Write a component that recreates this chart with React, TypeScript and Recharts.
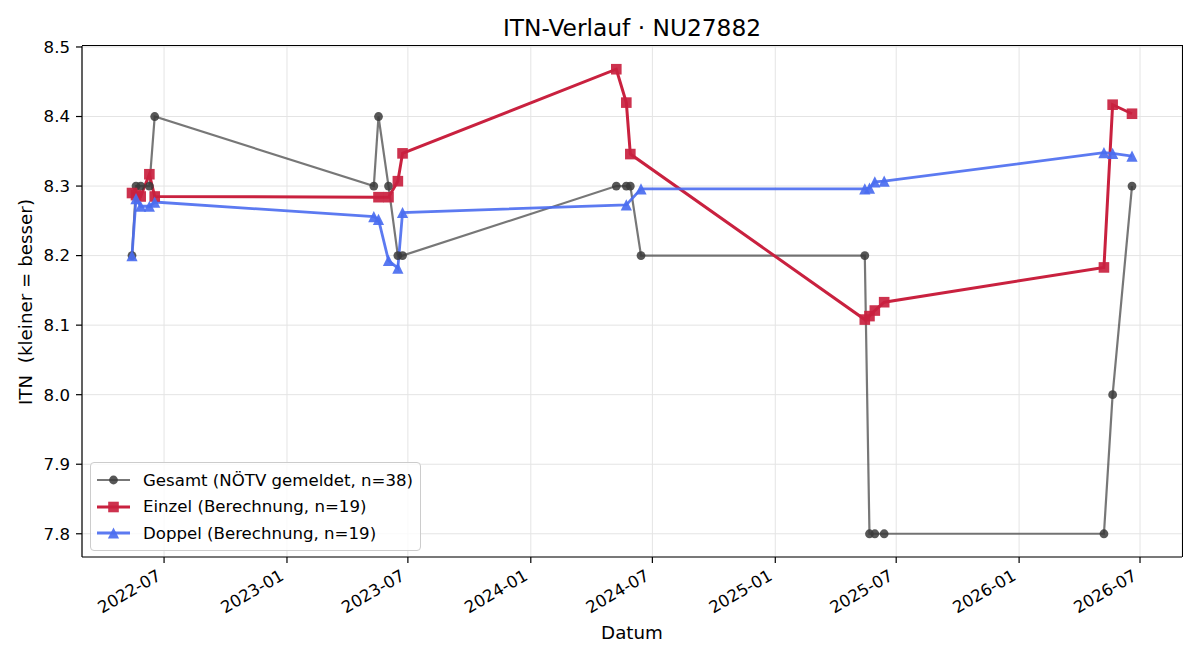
import React from 'react'
import {LineChart, Line, XAxis, YAxis, CartesianGrid} from 'recharts'

// ITN history for NU27882: total (reported) plus singles / doubles calculation
const gesamtDates = [
  '2022-05-14', '2022-05-20', '2022-05-27', '2022-06-09', '2022-06-17',
  '2023-05-11', '2023-05-18', '2023-06-02', '2023-06-16', '2023-06-23',
  '2024-05-08', '2024-05-23', '2024-05-29', '2024-06-14',
  '2025-05-15', '2025-05-22', '2025-05-30', '2025-06-13',
  '2026-05-08', '2026-05-21', '2026-06-19',
]
const gesamtValues = [
  8.2, 8.3, 8.3, 8.3, 8.4,
  8.3, 8.4, 8.3, 8.2, 8.2,
  8.3, 8.3, 8.3, 8.2,
  8.2, 7.8, 7.8, 7.8,
  7.8, 8.0, 8.3,
]

const einzelDates = [
  '2022-05-14', '2022-05-20', '2022-05-27', '2022-06-09', '2022-06-17',
  '2023-05-18', '2023-06-02', '2023-06-16', '2023-06-23',
  '2024-05-08', '2024-05-23', '2024-05-29',
  '2025-05-15', '2025-05-22', '2025-05-30', '2025-06-13',
  '2026-05-08', '2026-05-21', '2026-06-19',
]
const einzelValues = [
  8.290, 8.287, 8.285, 8.317, 8.285,
  8.284, 8.284, 8.307, 8.347,
  8.468, 8.420, 8.346,
  8.108, 8.113, 8.121, 8.133,
  8.183, 8.417, 8.404,
]

const doppelDates = [
  '2022-05-14', '2022-05-20', '2022-05-27', '2022-06-09', '2022-06-17',
  '2023-05-11', '2023-05-18', '2023-06-02', '2023-06-16', '2023-06-23',
  '2024-05-23', '2024-06-14',
  '2025-05-15', '2025-05-22', '2025-05-30', '2025-06-13',
  '2026-05-08', '2026-05-21', '2026-06-19',
]
const doppelValues = [
  8.200, 8.282, 8.271, 8.271, 8.277,
  8.256, 8.252, 8.193, 8.182, 8.262,
  8.273, 8.296,
  8.296, 8.297, 8.306, 8.307,
  8.348, 8.347, 8.343,
]

const xTickLabels = ['2022-07', '2023-01', '2023-07', '2024-01', '2024-07', '2025-01', '2025-07', '2026-01', '2026-07']
const yTicks = [7.8, 7.9, 8.0, 8.1, 8.2, 8.3, 8.4, 8.5]

const FONT = 'DejaVu Sans'
const GRAY = '#4a4a4a'
const RED = '#c9213f'
const BLUE = '#4a6cf0'

const toTime = (d: string) => Date.parse(d + 'T00:00:00Z')
const toSeries = (dates: string[], values: number[]) => dates.map((d, i) => ({t: toTime(d), v: values[i]}))

const gesamt = toSeries(gesamtDates, gesamtValues)
const einzel = toSeries(einzelDates, einzelValues)
const doppel = toSeries(doppelDates, doppelValues)

const allTimes = [...gesamt, ...einzel, ...doppel].map(p => p.t)
const tMin = Math.min(...allTimes)
const tMax = Math.max(...allTimes)
const tPad = (tMax - tMin) * 0.05
const xDomain: [number, number] = [tMin - tPad, tMax + tPad]

const allValues = [...gesamtValues, ...einzelValues, ...doppelValues]
const vMin = Math.min(...allValues)
const vMax = Math.max(...allValues)
const vPad = (vMax - vMin) * 0.05
const yDomain: [number, number] = [vMin - vPad, vMax + vPad]

const xTicks = xTickLabels.map(m => toTime(m + '-01'))

// plot box in page pixels
const PLOT = {left: 82, top: 46, right: 1182, bottom: 557}

const circleDot = (p: any) => (
  <circle key={`g${p.index}`} cx={p.cx} cy={p.cy} r={4.4} fill="#3a3a3a" fillOpacity={0.85} />
)
const squareDot = (p: any) => (
  <rect key={`e${p.index}`} x={p.cx - 5.3} y={p.cy - 5.3} width={10.6} height={10.6} fill={RED} fillOpacity={0.92} />
)
const triangleDot = (p: any) => (
  <path key={`d${p.index}`} d={`M${p.cx},${p.cy - 5.6}L${p.cx + 5.6},${p.cy + 5.6}L${p.cx - 5.6},${p.cy + 5.6}Z`} fill={BLUE} fillOpacity={0.92} />
)

function DateTick({x, y, payload}: any) {
  const tx = x - 2
  const ty = y + 16
  return (
    <text x={tx} y={ty} transform={`rotate(-30, ${tx}, ${ty})`} textAnchor="end" fontSize={16.6} fontFamily={FONT} fill="#000">
      {new Date(payload.value).toISOString().slice(0, 7)}
    </text>
  )
}

const legendItems = [
  {label: 'Gesamt (NÖTV gemeldet, n=38)', color: GRAY, opacity: 0.75, width: 2.2, marker: 'circle'},
  {label: 'Einzel (Berechnung, n=19)', color: RED, opacity: 1, width: 3, marker: 'square'},
  {label: 'Doppel (Berechnung, n=19)', color: BLUE, opacity: 0.9, width: 2.8, marker: 'triangle'},
]

function LegendMarker({marker}: {marker: string}) {
  if (marker === 'circle') return <circle cx={16.5} cy={9} r={4.4} fill="#3a3a3a" fillOpacity={0.85} />
  if (marker === 'square') return <rect x={11.2} y={3.7} width={10.6} height={10.6} fill={RED} fillOpacity={0.92} />
  return <path d="M16.5,3.4L22.1,14.6L10.9,14.6Z" fill={BLUE} fillOpacity={0.92} />
}

export default function App() {
  return (
    <div style={{position: 'absolute', left: 0, top: 0, width: 1200, height: 660, background: '#fff', fontFamily: FONT}}>
      <div style={{position: 'absolute', left: 82, top: 14, width: 1100, lineHeight: '28px', textAlign: 'center', fontSize: 23.3}}>
        ITN-Verlauf · NU27882
      </div>
      <div style={{position: 'absolute', left: 26 - 200, top: 301.5 - 12, width: 400, lineHeight: '24px', textAlign: 'center', fontSize: 18.3, transform: 'rotate(-90deg)', whiteSpace: 'pre'}}>
        {'ITN  (kleiner = besser)'}
      </div>
      <div style={{position: 'absolute', left: 82, top: 633 - 12, width: 1100, lineHeight: '24px', textAlign: 'center', fontSize: 18.3}}>
        Datum
      </div>

      <LineChart width={1200} height={660} data={gesamt} margin={{top: 46, right: 18, bottom: 23, left: 22}}>
        <CartesianGrid stroke="#e4e4e4" strokeWidth={1} />
        <XAxis dataKey="t" type="number" domain={xDomain} ticks={xTicks} allowDataOverflow
          height={80} tickSize={6} tickMargin={0} tick={<DateTick />}
          axisLine={{stroke: '#000', strokeWidth: 1.2}} tickLine={{stroke: '#000', strokeWidth: 1.2}} />
        <YAxis type="number" domain={yDomain} ticks={yTicks} allowDataOverflow width={60}
          tickSize={6} tickMargin={6} tickFormatter={(v: number) => v.toFixed(1)}
          tick={{fontSize: 16.6, fontFamily: FONT, fill: '#000'}}
          axisLine={{stroke: '#000', strokeWidth: 1.2}} tickLine={{stroke: '#000', strokeWidth: 1.2}} />

        <Line data={gesamt} dataKey="v" type="linear" stroke={GRAY} strokeOpacity={0.75} strokeWidth={2.2}
          dot={circleDot} activeDot={false} isAnimationActive={false} />
        <Line data={einzel} dataKey="v" type="linear" stroke={RED} strokeWidth={3}
          dot={squareDot} activeDot={false} isAnimationActive={false} />
        <Line data={doppel} dataKey="v" type="linear" stroke={BLUE} strokeOpacity={0.9} strokeWidth={2.8}
          dot={triangleDot} activeDot={false} isAnimationActive={false} />
      </LineChart>

      {/* top and right edges of the axes frame */}
      <div style={{position: 'absolute', left: PLOT.left, top: PLOT.top - 0.6, width: PLOT.right - PLOT.left,
        height: PLOT.bottom - PLOT.top, borderTop: '1.2px solid #000', borderRight: '1.2px solid #000', pointerEvents: 'none'}} />

      <div style={{position: 'absolute', left: 90, top: 462, padding: '4px 7px 3px 6px', border: '1px solid #cccccc',
        borderRadius: 4, background: 'rgba(255,255,255,0.8)', fontSize: 16.6}}>
        {legendItems.map(item => (
          <div key={item.label} style={{display: 'flex', alignItems: 'center', height: 26.5}}>
            <svg width={33} height={18} style={{marginRight: 13}}>
              <line x1={0} y1={9} x2={33} y2={9} stroke={item.color} strokeOpacity={item.opacity} strokeWidth={item.width} />
              <LegendMarker marker={item.marker} />
            </svg>
            <span style={{whiteSpace: 'nowrap'}}>{item.label}</span>
          </div>
        ))}
      </div>
    </div>
  )
}
